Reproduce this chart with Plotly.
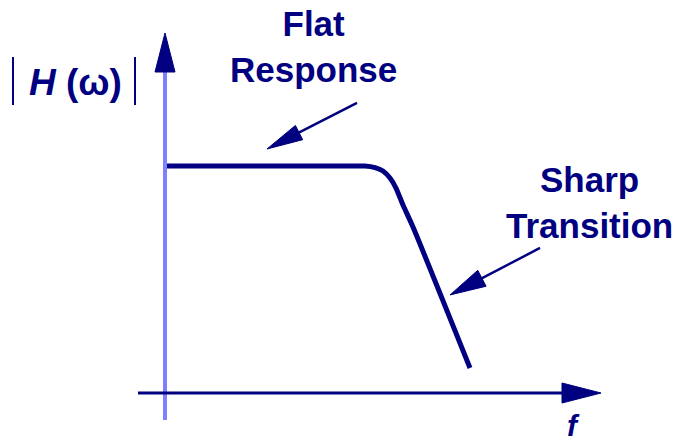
import math
import plotly.graph_objects as go

# ---- data: magnitude response |H(w)| versus frequency f (arbitrary units) ----
freq = [0.0, 1.00, 1.90, 2.00, 2.10, 2.18, 2.25, 2.31, 2.38, 2.48, 3.05]
magnitude = [1.0, 1.0, 1.0, 1.0, 0.993, 0.978, 0.947, 0.903, 0.828, 0.731, 0.110]

label_flat = "Flat<br>Response"
label_sharp = "Sharp<br>Transition"
label_y = "<b><i>H</i> (ω)</b>"
label_x = "<b><i>f</i></b>"

# ---- layout geometry (pixels) ----
W, H = 683, 441
X0, Y0 = 165, 393     # pixel position of the origin
SX, SY = 100, 227     # pixels per data unit

NAVY = "#000080"
LIGHT = "#8080ff"
FONT = "Liberation Sans, Arial, sans-serif"


def to_px(f, h):
    return X0 + f * SX, Y0 - h * SY


def to_data(px, py):
    return (px - X0) / SX, (Y0 - py) / SY


shapes = []


def triangle(tip_px, base_px, half_w):
    tx, ty = tip_px
    bx, by = base_px
    dx, dy = tx - bx, ty - by
    d = math.hypot(dx, dy)
    nx, ny = -dy / d * half_w, dx / d * half_w
    pts = [(tx, ty), (bx + nx, by + ny), (bx - nx, by - ny)]
    pts = [to_data(*p) for p in pts]
    path = "M {} {} L {} {} L {} {} Z".format(*[c for p in pts for c in p])
    shapes.append(dict(type="path", path=path, xref="x", yref="y",
                       fillcolor=NAVY, line=dict(color=NAVY, width=1), layer="above"))


def arrow(tail_d, tip_d, head_len, half_w, width):
    tx, ty = to_px(*tip_d)
    sx, sy = to_px(*tail_d)
    d = math.hypot(tx - sx, ty - sy)
    ux, uy = (tx - sx) / d, (ty - sy) / d
    bx, by = tx - ux * head_len, ty - uy * head_len
    ex, ey = to_data(bx + ux * 3, by + uy * 3)
    shapes.append(dict(type="line", xref="x", yref="y", x0=tail_d[0], y0=tail_d[1],
                       x1=ex, y1=ey, line=dict(color=NAVY, width=width), layer="above"))
    triangle((tx, ty), (bx, by), half_w)


# vertical axis (light blue) with navy arrowhead
vy0 = to_data(0, 420)[1]
vtop = to_data(0, 33)[1]
vbase = to_data(0, 72)[1]
shapes.append(dict(type="line", xref="x", yref="y", x0=0, x1=0, y0=vy0, y1=vbase + 0.01,
                   line=dict(color=LIGHT, width=4), layer="above"))
# horizontal axis (navy) with arrowhead
hx0 = to_data(138, 0)[0]
hbase = to_data(562, 0)[0]
htip = to_data(601, 0)[0]
shapes.append(dict(type="line", xref="x", yref="y", x0=hx0, x1=hbase + 0.02, y0=0, y1=0,
                   line=dict(color=NAVY, width=3), layer="above"))
triangle(to_px(0, vtop), to_px(0, vbase), 10)
triangle(to_px(htip, 0), to_px(hbase, 0), 10)

# annotation arrows
arrow((1.92, 1.278), (1.02, 1.075), 36, 8, 2.5)
arrow((3.75, 0.639), (2.85, 0.432), 36, 9, 2.5)

# |H(w)| bars
for bx in (13, 135):
    fx, fy0 = to_data(bx, 57)
    _, fy1 = to_data(bx, 105)
    shapes.append(dict(type="line", xref="x", yref="y", x0=fx, x1=fx, y0=fy0, y1=fy1,
                       line=dict(color=NAVY, width=2)))

fig = go.Figure()
fig.add_trace(go.Scatter(x=freq, y=magnitude, mode="lines",
                         line=dict(color=NAVY, width=5, shape="spline", smoothing=0.6),
                         hoverinfo="skip"))

annotations = []


def text(px, py, s, size):
    x, y = to_data(px, py)
    annotations.append(dict(x=x, y=y, xref="x", yref="y", text=s, showarrow=False,
                            xanchor="center", yanchor="middle",
                            font=dict(family=FONT, size=size, color=NAVY)))


text(313, 46, "<b>" + label_flat + "</b>", 35)
text(589, 202, "<b>" + label_sharp + "</b>", 35)
text(75, 82, label_y, 37)
text(573, 425, label_x, 30)

fig.update_layout(
    width=W, height=H,
    margin=dict(l=0, r=0, t=0, b=0),
    paper_bgcolor="white", plot_bgcolor="white",
    showlegend=False,
    xaxis=dict(range=[(0 - X0) / SX, (W - X0) / SX], visible=False, fixedrange=True),
    yaxis=dict(range=[(Y0 - H) / SY, Y0 / SY], visible=False, fixedrange=True),
    shapes=shapes,
    annotations=annotations,
)

fig.write_html("out.html", config={"displayModeBar": False},
               post_script="document.body.style.margin='0';document.body.style.overflow='hidden';")
